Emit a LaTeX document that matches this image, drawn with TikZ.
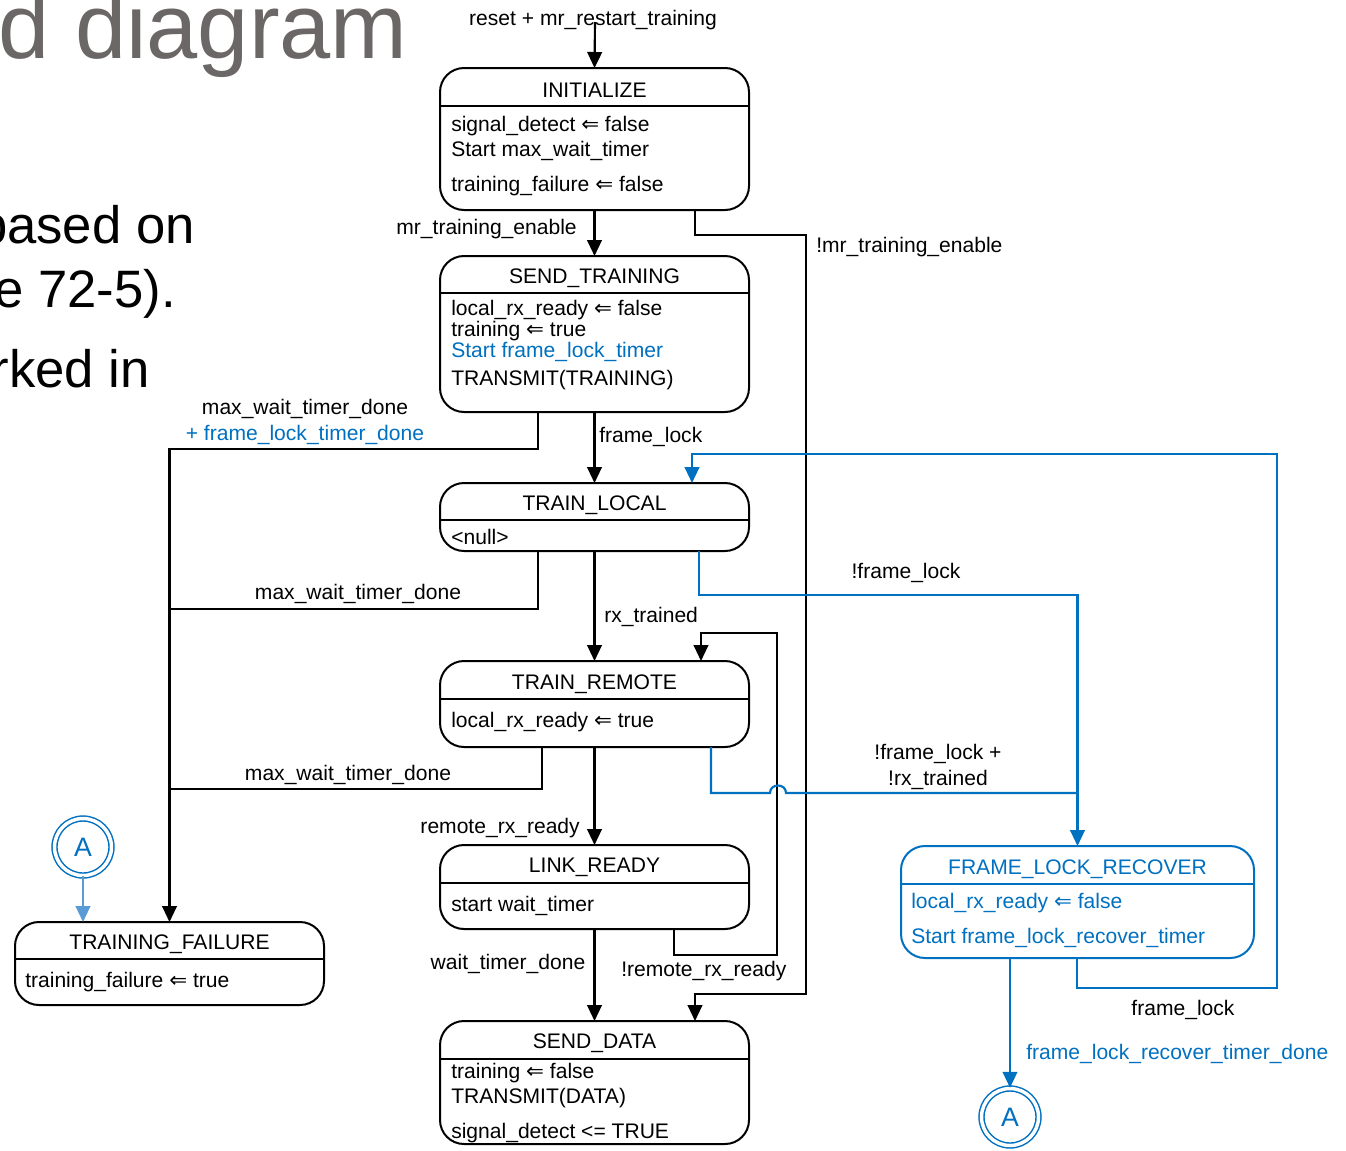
\documentclass[tikz,border=0pt]{standalone}
\usepackage{fontspec}
\setmainfont{Liberation Sans}
\newfontfamily\djfont{DejaVu Sans}
\usetikzlibrary{arrows.meta,calc}
\definecolor{blu}{HTML}{0070C0}
\definecolor{lblu}{HTML}{5B9BD5}
\definecolor{ttl}{HTML}{6B6767}
\newcommand\la{{\djfont\fontsize{16}{16}\selectfont ⇐}}
% name, left, top, right, bottom, header y, colour
\newcommand\stbox[7]{%
  \pgfmathsetmacro\cx{(#2+#4)/2}%
  \pgfmathsetmacro\cy{(#3+#5)/2}%
  \pgfmathsetmacro\ww{(#4-#2)*0.75}%
  \pgfmathsetmacro\hh{(#5-#3)*0.75}%
  \node[sbox,draw=#7,minimum width=\ww pt,minimum height=\hh pt] (#1) at (\cx,\cy) {};
  \draw[#7,line width=1.5pt] (#2,#6) -- (#4,#6);
}
\begin{document}
\begin{tikzpicture}[x=0.75pt,y=-0.75pt,
  sbox/.style={rectangle,rounded corners=18pt,line width=1.5pt,inner sep=0pt,outer sep=0pt},
  txt/.style={inner sep=0pt,font=\fontsize{15.8}{19}\selectfont},
  ttltxt/.style={txt,anchor=base},
  lin/.style={txt,anchor=base west},
  lbl/.style={txt,anchor=base},
  big/.style={inner sep=0pt,anchor=base east,font=\fontsize{39.5}{48}\selectfont},
  arr/.style={line width=1.6pt,line join=miter,-{Triangle[length=12pt,width=11pt]}},
  plain/.style={line width=1.6pt,line join=miter},
  dcirc/.style={circle,draw=blu,double=white,line width=1.1pt,double distance=2.6pt,minimum size=42.75pt,inner sep=0pt,text=blu,font=\fontsize{20}{20}\selectfont}
]
\useasboundingbox (0,0) rectangle (1346,1150);
\clip (0,0) rectangle (1346,1150);
\fill[white] (0,0) rectangle (1346,1150);

% slide background text
\node[big,text=ttl,font=\fontsize{69}{80}\selectfont] (s0) at (408,58) {d diagram};
\node[big] (s1) at (195,243) {based on};
\node[big] (s2) at (176,307) {e 72-5).};
\node[big] (s3) at (150,387) {rked in};

% state boxes
\stbox{init}{440}{68}{749}{210}{106}{black}
\node[ttltxt] (init-t) at (594.5,97) {INITIALIZE};
\node[lin] (init-1) at (451,131) {signal\_detect \la{} false};
\node[lin] (init-2) at (451,156) {Start max\_wait\_timer};
\node[lin] (init-3) at (451,191) {training\_failure \la{} false};

\stbox{st}{440}{256}{749}{412}{293}{black}
\node[ttltxt] (st-t) at (594.5,283) {SEND\_TRAINING};
\node[lin] (st-1) at (451,315) {local\_rx\_ready \la{} false};
\node[lin] (st-2) at (451,336) {training \la{} true};
\node[lin,text=blu] (st-3) at (451,357) {Start frame\_lock\_timer};
\node[lin] (st-4) at (451,385) {TRANSMIT(TRAINING)};

\stbox{tl}{440}{483}{749}{551}{520}{black}
\node[ttltxt] (tl-t) at (594.5,510) {TRAIN\_LOCAL};
\node[lin] (tl-1) at (451,544) {<null>};

\stbox{tr}{440}{661}{749}{747}{699}{black}
\node[ttltxt] (tr-t) at (594.5,689) {TRAIN\_REMOTE};
\node[lin] (tr-1) at (451,727) {local\_rx\_ready \la{} true};

\stbox{lr}{440}{845}{749}{929}{883}{black}
\node[ttltxt] (lr-t) at (594.5,872) {LINK\_READY};
\node[lin] (lr-1) at (451,911) {start wait\_timer};

\stbox{sd}{440}{1021}{749}{1144}{1059}{black}
\node[ttltxt] (sd-t) at (594.5,1048) {SEND\_DATA};
\node[lin] (sd-1) at (451,1078) {training \la{} false};
\node[lin] (sd-2) at (451,1103) {TRANSMIT(DATA)};
\node[lin] (sd-3) at (451,1138) {signal\_detect <= TRUE};

\stbox{tf}{15}{922}{324}{1005}{959}{black}
\node[ttltxt] (tf-t) at (169.5,949) {TRAINING\_FAILURE};
\node[lin] (tf-1) at (25,987) {training\_failure \la{} true};

\stbox{flr}{901}{846}{1254}{958}{884}{blu}
\node[ttltxt,text=blu] (flr-t) at (1077.5,874) {FRAME\_LOCK\_RECOVER};
\node[lin,text=blu] (flr-1) at (911,908) {local\_rx\_ready \la{} false};
\node[lin,text=blu] (flr-2) at (911,943) {Start frame\_lock\_recover\_timer};

% connector points
\node[dcirc] (aL) at (83,847) {A};
\node[dcirc] (aR) at (1010,1117) {A};
\coordinate (rs) at (595,22);
\coordinate (j1) at (170,609);
\coordinate (j2) at (170,789);
\coordinate (j3) at (1077.5,793);

% black connectors
\draw[arr] (rs) -- (init.north);
\node[lbl] (l-reset) at (593,25) {reset + mr\_restart\_training};

\draw[arr] (init.south) -- (st.north);
\node[txt,anchor=base east] (l-mte) at (577,234) {mr\_training\_enable};

\draw[arr] ($(init.south west)+(255,0)$) -- ++(0,25) -| (806,994) -| ($(sd.north west)+(255,0)$);
\node[lin] (l-nmte) at (816,252) {!mr\_training\_enable};

\draw[arr] (st.south) -- (tl.north);
\node[lin] (l-fl) at (599,442) {frame\_lock};

\draw[arr] ($(st.south west)+(98,0)$) -- (538,449) -| (tf.north);
\node[lbl] (l-mw1) at (305,414) {max\_wait\_timer\_done};
\node[lbl,text=blu] (l-fltd) at (305,440) {+ frame\_lock\_timer\_done};

\draw[arr] (tl.south) -- (tr.north);
\node[lin] (l-rxt) at (604,622) {rx\_trained};

\draw[plain] ($(tl.south west)+(98,0)$) |- (j1);
\node[lbl] (l-mw2) at (358,599) {max\_wait\_timer\_done};

\draw[plain] ($(tr.south west)+(102,0)$) |- (j2);
\node[lbl] (l-mw3) at (348,780) {max\_wait\_timer\_done};

\draw[arr] (tr.south) -- (lr.north);
\node[txt,anchor=base east] (l-rrr) at (580,833) {remote\_rx\_ready};

\draw[arr] ($(lr.south west)+(234,0)$) -- ++(0,26) -| (777,633) -| ($(tr.north west)+(261,0)$);
\node[lin] (l-nrrr) at (621,976) {!remote\_rx\_ready};

\draw[arr] (lr.south) -- (sd.north);
\node[lbl] (l-wtd) at (508,969) {wait\_timer\_done};

% blue connectors
\draw[arr,blu] ($(tl.south west)+(259,0)$) |- (906,595) -| (flr.north);
\node[lbl] (l-nfl) at (906,578) {!frame\_lock};

\draw[plain,blu] ($(tr.south west)+(271,0)$) |- (770,793) .. controls (770,783) and (786,783) .. (786,793) -- (j3);
\node[lbl] (l-nfl2) at (938,759) {!frame\_lock +};
\node[lbl] (l-nrx) at (938,785) {!rx\_trained};

\draw[arr,blu] ($(flr.south west)+(176,0)$) |- (1277,988) |- (692,454) -- ($(tl.north west)+(252,0)$);
\node[lbl] (l-fl2) at (1183,1015) {frame\_lock};

\draw[arr,blu] ($(flr.south west)+(109,0)$) -- (aR.north);
\node[lin,text=blu] (l-flrtd) at (1026,1059) {frame\_lock\_recover\_timer\_done};

\draw[arr,lblu] (aL.south) -- (aL.south |- tf.north);
\end{tikzpicture}
\end{document}
